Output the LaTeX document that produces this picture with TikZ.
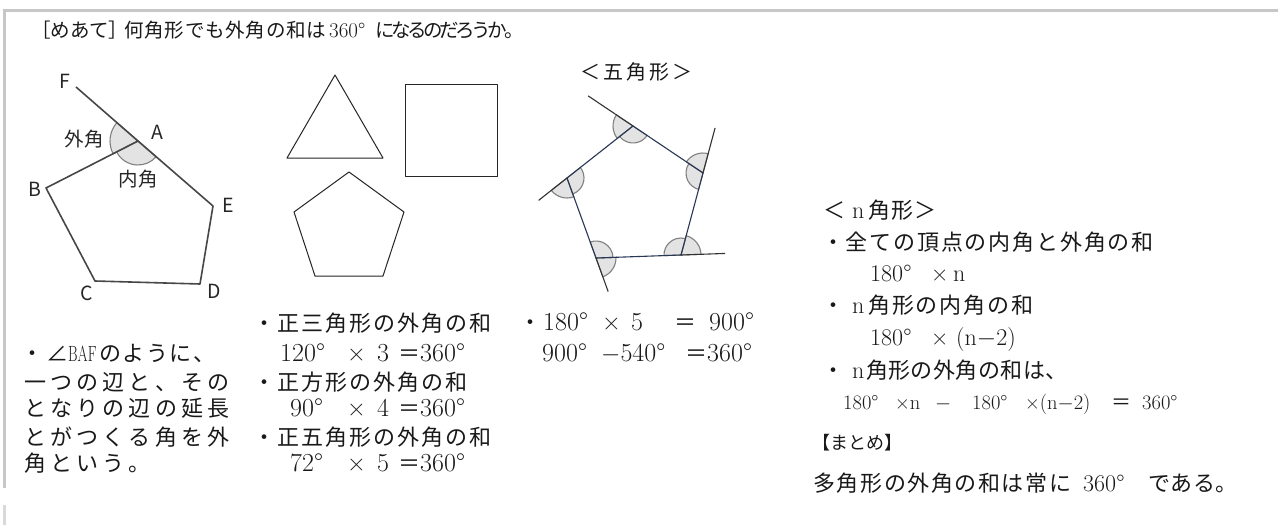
\documentclass[tikz,border=0pt]{standalone}
\usepackage{fontspec}
\usepackage{graphicx}
\newfontfamily\jp{Noto Sans CJK JP}
\usetikzlibrary{calc}
\def\spcstop{\relax}
\newcommand\spc[2]{\def\spk{#1}\spci#2\relax}
\newcommand\spci[1]{\def\spcarg{#1}\ifx\spcarg\spcstop\else#1\kern\spk\relax\expandafter\spci\fi}
\tikzset{
 t/.style={inner sep=0pt, anchor=base west, text=black!90},
 j22/.style={font=\jp\fontsize{22}{26}\selectfont},
 j20/.style={font=\jp\fontsize{20}{24}\selectfont},
 j19/.style={font=\jp\fontsize{19.5}{23}\selectfont},
 j18/.style={font=\jp\fontsize{18}{22}\selectfont},
 r26/.style={font=\rmfamily\fontsize{26}{30}\selectfont},
 r24/.style={font=\rmfamily\fontsize{24}{28}\selectfont},
 r22/.style={font=\rmfamily\fontsize{22}{26}\selectfont},
 r21/.style={font=\rmfamily\fontsize{21}{25}\selectfont},
 r20/.style={font=\rmfamily\fontsize{20.5}{24}\selectfont},
 lbl/.style={inner sep=0pt, font=\jp\fontsize{19.5}{22}\selectfont, text=black!85},
 fig/.style={draw=black!72, line width=1.6pt, line join=round},
 shp/.style={draw=black!85, line width=1pt, line join=round},
 ang/.style={fill=black!11, draw=black!50, line width=1.1pt},
 side/.style={draw={rgb,255:red,40;green,55;blue,85}, line width=1.1pt, line join=round},
 ext/.style={draw=black!80, line width=1.1pt},
 frame/.style={draw=black!22, line width=3pt},
}
\begin{document}
\begin{tikzpicture}[x=1pt,y=1pt]
\useasboundingbox (0,0) rectangle (1278,-525);
\fill[white] (0,0) rectangle (1278,-525);
% frame
\coordinate (fTR) at (1278,-10.5);
\coordinate (fTL) at (4,-10.5);
\coordinate (fBL) at (4,-488);
\coordinate (fB2) at (4,-505);
\coordinate (fB3) at (4,-525);
\draw[frame] (fTR) -- (fTL) -- (fBL);
\draw[frame, draw=black!15] (fB2) -- (fB3);

% title
\node[t,j19] (ti1) at (31,-37.4) {［めあて］};
\node[t,j19] (ti2) at (124,-37.4) {\spc{0.8pt}{何角形でも外角の和は}};
\node[t,r21] (ti3) at (329,-37.4) {360°};
\node[t,j19] (ti4) at (375,-37.4) {\spc{-3.4pt}{になるのだろうか。}};

% left figure
\coordinate (A) at (138,-141);
\coordinate (F) at (76,-87);
\coordinate (B) at (46,-188);
\coordinate (C) at (95,-281);
\coordinate (D) at (200,-284);
\coordinate (E) at (213,-206);
\filldraw[ang] (A) -- ++(139.1:28pt) arc[start angle=139.1,end angle=207.1,radius=28pt] -- cycle;
\filldraw[ang] (A) -- ++(207.1:24pt) arc[start angle=207.1,end angle=319.1,radius=24pt] -- cycle;
\draw[fig] (F) -- (A) -- (E) -- (D) -- (C) -- (B) -- (A);
\node[lbl] (lF) at (65,-81) {F};
\node[lbl] (lA) at (157,-132) {A};
\node[lbl] (lB) at (35,-189) {B};
\node[lbl] (lE) at (228,-205) {E};
\node[lbl] (lC) at (87,-293) {C};
\node[lbl] (lD) at (214,-291) {D};
\node[lbl] (lext) at (84,-139) {外角};
\node[lbl] (lint) at (138,-179) {内角};

% middle shapes
\coordinate (T1) at (335,-75);
\coordinate (T2) at (287,-158);
\coordinate (T3) at (383,-158);
\draw[shp] (T1) -- (T2) -- (T3) -- cycle;
\coordinate (S1) at (405,-84);
\coordinate (S2) at (497,-176);
\draw[shp] (S1) rectangle (S2);
\coordinate (P1) at (349,-172);
\coordinate (P2) at (404,-212);
\coordinate (P3) at (383,-276);
\coordinate (P4) at (315,-276);
\coordinate (P5) at (294,-212);
\draw[shp] (P1) -- (P2) -- (P3) -- (P4) -- (P5) -- cycle;

% right pentagon
\node[t,j20] (p5t) at (580,-79.6) {\spc{3pt}{＜五角形＞}};
\coordinate (V1) at (633,-126);
\coordinate (V2) at (703,-173);
\coordinate (V3) at (681,-255);
\coordinate (V4) at (596,-258);
\coordinate (V5) at (567,-178);
\coordinate (E1) at ($(V1)!-0.64!(V2)$);
\coordinate (E2) at ($(V2)!-0.55!(V3)$);
\coordinate (E3) at ($(V3)!-0.52!(V4)$);
\coordinate (E4) at ($(V4)!-0.42!(V5)$);
\coordinate (E5) at ($(V5)!-0.43!(V1)$);
\filldraw[ang] (V1) -- ++(146.1:20pt) arc[start angle=146.1,end angle=218.2,radius=20pt] -- cycle;
\filldraw[ang] (V1) -- ++(218.2:17pt) arc[start angle=218.2,end angle=326.1,radius=17pt] -- cycle;
\filldraw[ang] (V2) -- ++(75:20pt) arc[start angle=75,end angle=146.1,radius=20pt] -- cycle;
\filldraw[ang] (V2) -- ++(146.1:17pt) arc[start angle=146.1,end angle=255,radius=17pt] -- cycle;
\filldraw[ang] (V3) -- ++(2:20pt) arc[start angle=2,end angle=75,radius=20pt] -- cycle;
\filldraw[ang] (V3) -- ++(75:17pt) arc[start angle=75,end angle=182,radius=17pt] -- cycle;
\filldraw[ang] (V4) -- ++(289.9:20pt) arc[start angle=289.9,end angle=362,radius=20pt] -- cycle;
\filldraw[ang] (V4) -- ++(362:17pt) arc[start angle=362,end angle=469.9,radius=17pt] -- cycle;
\filldraw[ang] (V5) -- ++(218.2:20pt) arc[start angle=218.2,end angle=289.9,radius=20pt] -- cycle;
\filldraw[ang] (V5) -- ++(289.9:17pt) arc[start angle=289.9,end angle=398.2,radius=17pt] -- cycle;
\draw[side] (V1) -- (V2) -- (V3) -- (V4) -- (V5) -- cycle;
\draw[ext] (V1) -- (E1);
\draw[ext] (V2) -- (E2);
\draw[ext] (V3) -- (E3);
\draw[ext] (V4) -- (E4);
\draw[ext] (V5) -- (E5);

% left text block
\node[t,j22] (a1) at (21,-361.4) {\spc{3pt}{・∠}};
\node[t,r22] (a2) at (68,-361.4) {\scalebox{0.66}[1]{BAF}};
\node[t,j22] (a3) at (99,-361.4) {\spc{1.6pt}{のように、}};
\node[t,j22] (a4) at (24,-390.4) {\spc{4.2pt}{一つの辺と、その}};
\node[t,j22] (a5) at (24,-416.4) {\spc{4.2pt}{となりの辺の延長}};
\node[t,j22] (a6) at (24,-445.4) {\spc{4.2pt}{とがつくる角を外}};
\node[t,j22] (a7) at (24,-471.4) {\spc{4.2pt}{角という。}};

% middle text block
\node[t,j22] (b1) at (253,-331.4) {\spc{2pt}{・正三角形の外角の和}};
\node[t,r26] (b2a) at (280,-361.6) {120°};
\node[t,r26] (b2b) at (347,-361.6) {×};
\node[t,r26] (b2c) at (377,-361.6) {3};
\node[t,j22] (b2d) at (398,-361.6) {＝};
\node[t,r26] (b2e) at (420,-361.6) {360°};
\node[t,j22] (b3) at (253,-390.4) {\spc{2pt}{・正方形の外角の和}};
\node[t,r26] (b4a) at (290,-416.6) {90°};
\node[t,r26] (b4b) at (347,-416.6) {×};
\node[t,r26] (b4c) at (377,-416.6) {4};
\node[t,j22] (b4d) at (398,-416.6) {＝};
\node[t,r26] (b4e) at (420,-416.6) {360°};
\node[t,j22] (b5) at (253,-445.4) {\spc{2pt}{・正五角形の外角の和}};
\node[t,r26] (b6a) at (290,-471.6) {72°};
\node[t,r26] (b6b) at (347,-471.6) {×};
\node[t,r26] (b6c) at (377,-471.6) {5};
\node[t,j22] (b6d) at (398,-471.6) {＝};
\node[t,r26] (b6e) at (420,-471.6) {360°};

% middle-right text
\node[t,j22] (c1) at (519,-330.6) {・};
\node[t,r26] (c2) at (543,-330.6) {180°};
\node[t,r26] (c3) at (602,-330.6) {×};
\node[t,r26] (c4) at (631,-330.6) {5};
\node[t,j22] (c5) at (674,-330.6) {＝};
\node[t,r26] (c6) at (709,-330.6) {900°};
\node[t,r26] (c7) at (542,-361.6) {900°};
\node[t,r26] (c8) at (601,-361.6) {$-$540°};
\node[t,j22] (c9) at (685,-361.6) {＝};
\node[t,r26] (c10) at (707,-361.6) {360°};

% right text block
\node[t,j22] (d1) at (823,-218.4) {＜};
\node[t,r24] (d2) at (852,-218.4) {n};
\node[t,j22] (d3) at (868,-218.4) {\spc{1pt}{角形＞}};
\node[t,j22] (d4) at (822,-250.4) {\spc{1.8pt}{・全ての頂点の内角と外角の和}};
\node[t,r24] (d5) at (870,-281) {180°};
\node[t,r24] (d6) at (931,-281) {×};
\node[t,r24] (d7) at (953,-281) {n};
\node[t,j22] (d8) at (822,-313.4) {・};
\node[t,r24] (d9) at (852,-313.4) {n};
\node[t,j22] (d10) at (868,-313.4) {\spc{1.9pt}{角形の内角の和}};
\node[t,r24] (d11) at (870,-345) {180°};
\node[t,r24] (d12) at (931,-345) {×};
\node[t,r24] (d13) at (956,-345) {(n$-$2)};
\node[t,j22] (d14) at (822,-378.4) {・};
\node[t,r24] (d15) at (852,-378.4) {n};
\node[t,j22] (d16) at (866,-378.4) {\spc{0.4pt}{角形の外角の和は、}};
\node[t,r20] (d17) at (843,-409) {180°};
\node[t,r20] (d18) at (895,-409) {×n};
\node[t,r20] (d19) at (935,-409) {$-$};
\node[t,r20] (d20) at (972,-409) {180°};
\node[t,r20] (d21) at (1025,-409) {×(n$-$2)};
\node[t,j20] (d22) at (1111,-409) {＝};
\node[t,r20] (d23) at (1142,-409) {360°};
\node[t,j18] (d24) at (812,-449.8) {【まとめ】};
\node[t,j22] (d25) at (813,-491.4) {\spc{1.6pt}{多角形の外角の和は常に}};
\node[t,r24] (d26) at (1083,-491.4) {360°};
\node[t,j22] (d27) at (1148,-491.4) {\spc{0.5pt}{である。}};
\end{tikzpicture}
\end{document}
